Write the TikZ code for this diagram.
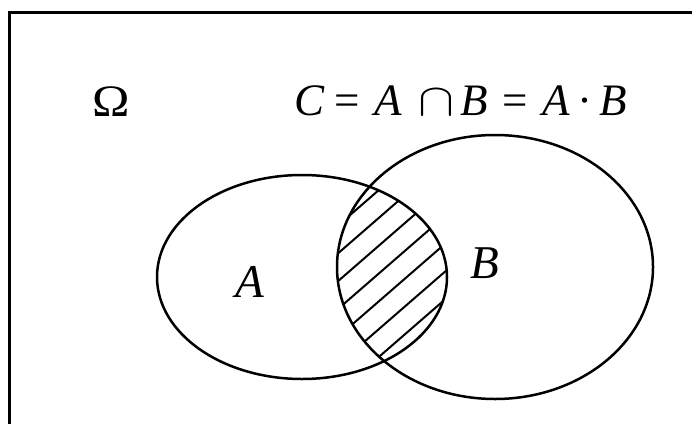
\documentclass[tikz,border=0pt]{standalone}
\usepackage{fontspec}
\setmainfont{Liberation Serif}
\usetikzlibrary{shapes.geometric}

\begin{document}
\begin{tikzpicture}[x=1pt, y=-1pt,
    frame/.style={line width=3pt},
    set/.style={draw, ellipse, line width=2.5pt, inner sep=0pt},
    hatch/.style={line width=2pt},
    lbl/.style={font=\fontsize{45}{50}\selectfont, inner sep=0pt, anchor=base west},
    var/.style={lbl, font=\fontsize{47}{52}\selectfont\itshape}
]
    \useasboundingbox (0,0) rectangle (692,423);
    \coordinate (tr) at (700,12);
    \coordinate (tl) at (9.5,12);
    \coordinate (bl) at (9.5,430);
    \draw[frame] (tr) -- (tl) -- (bl);
    \node[set, minimum width=290pt, minimum height=204pt] (A) at (302,277) {};
    \node[set, minimum width=316pt, minimum height=264pt] (B) at (495,267) {};
    % shaded part: A and B
    \begin{scope}
        \clip (A.center) ellipse [x radius=145, y radius=102];
        \clip (B.center) ellipse [x radius=158, y radius=132];
        \foreach \c in {392,413,...,520}
            \draw[hatch] (300,{(\c-196.8)/0.755}) -- (500,{(\c-328)/0.755});
    \end{scope}
    \node[lbl] (omega) at (92,116) {\scalebox{1.12}[1]{Ω}};
    % C = A cap B = A . B
    \foreach \x/\s [count=\i] in {294/\textit{C}, 334/=, 374/\textit{A}, 418/\scalebox{5.4}[4.6]{\normalsize$\cap$},
                                  460/\textit{B}, 502/=, 542/\textit{A}, 577/·, 599/\textit{B}}
        \node[lbl] (eq\i) at (\x,115) {\s};
    \node[var] (la) at (235,297) {A};
    \node[var] (lb) at (470,278) {B};
\end{tikzpicture}
\end{document}
